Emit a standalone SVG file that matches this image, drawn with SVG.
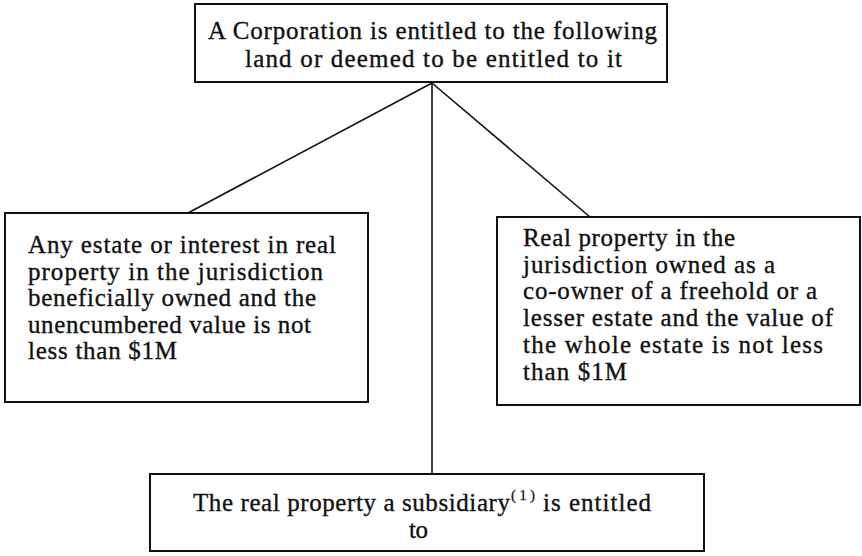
<svg xmlns="http://www.w3.org/2000/svg" width="862" height="556" viewBox="0 0 862 556">
  <style>
    .box { fill: #ffffff; stroke: #111111; stroke-width: 2; }
    .edge { fill: none; stroke: #111111; stroke-width: 1.6; }
    text { font-family: 'Liberation Serif', 'Times New Roman', Times, serif; font-size: 25px; fill: #111111; stroke: #111111; stroke-width: 0.35; }
    .sup { font-size: 15px; stroke-width: 0.25; }
  </style>
  <rect width="862" height="556" fill="#ffffff"/>

  <g id="connectors">
    <line class="edge" x1="432" y1="83" x2="188" y2="213"/>
    <line class="edge" x1="432" y1="83" x2="590" y2="217"/>
    <line class="edge" x1="432" y1="83" x2="432" y2="474"/>
  </g>

  <g id="node-corporation">
    <rect class="box" x="195" y="4" width="472" height="78"/>
    <text x="208" y="39" textLength="449" lengthAdjust="spacing">A Corporation is entitled to the following</text>
    <text x="245" y="67" textLength="377" lengthAdjust="spacing">land or deemed to be entitled to it</text>
  </g>

  <g id="node-estate">
    <rect class="box" x="5" y="213" width="363" height="189"/>
    <text x="28" y="253" textLength="308" lengthAdjust="spacing">Any estate or interest in real</text>
    <text x="28" y="280" textLength="295" lengthAdjust="spacing">property in the jurisdiction</text>
    <text x="28" y="306" textLength="288" lengthAdjust="spacing">beneficially owned and the</text>
    <text x="28" y="333" textLength="283" lengthAdjust="spacing">unencumbered value is not</text>
    <text x="28" y="359" textLength="149" lengthAdjust="spacing">less than $1M</text>
  </g>

  <g id="node-coowner">
    <rect class="box" x="497" y="217" width="363" height="188"/>
    <text x="523" y="246" textLength="212" lengthAdjust="spacing">Real property in the</text>
    <text x="523" y="273" textLength="252" lengthAdjust="spacing">jurisdiction owned as a</text>
    <text x="523" y="299" textLength="294" lengthAdjust="spacing">co-owner of a freehold or a</text>
    <text x="523" y="326" textLength="310" lengthAdjust="spacing">lesser estate and the value of</text>
    <text x="523" y="353" textLength="300" lengthAdjust="spacing">the whole estate is not less</text>
    <text x="523" y="380" textLength="104" lengthAdjust="spacing">than $1M</text>
  </g>

  <g id="node-subsidiary">
    <rect class="box" x="150" y="474" width="554" height="77"/>
    <text x="193" y="511" textLength="317" lengthAdjust="spacing">The real property a subsidiary</text>
    <text class="sup" x="511" y="500" textLength="24" lengthAdjust="spacing">(1)</text>
    <text x="543" y="511" textLength="108" lengthAdjust="spacing">is entitled</text>
    <text x="409" y="538" textLength="19" lengthAdjust="spacing">to</text>
  </g>
</svg>
